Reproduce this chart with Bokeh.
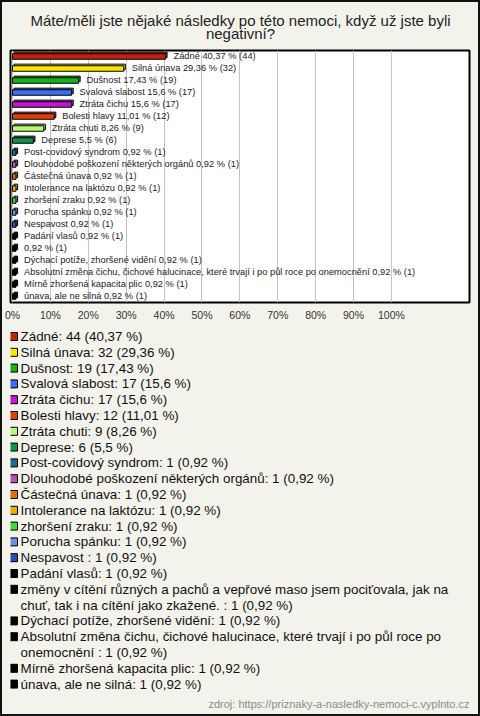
import textwrap
from bokeh.plotting import figure
from bokeh.layouts import column
from bokeh.models import Range1d, FixedTicker, ColumnDataSource
from bokeh.core.properties import value
from bokeh.embed import file_html
from bokeh.resources import INLINE

# ---------------- data ----------------
title_lines = ["Máte/měli jste nějaké následky po této nemoci, když už jste byli", "negativní?"]
source_text = "zdroj: https://priznaky-a-nasledky-nemoci-c.vyplnto.cz"

chart_names = [
    "Zádné", "Silná únava", "Dušnost", "Svalová slabost", "Ztráta čichu",
    "Bolesti hlavy", "Ztráta chuti", "Deprese", "Post-covidový syndrom",
    "Dlouhodobé poškození některých orgánů", "Částečná únava",
    "Intolerance na laktózu", "zhoršení zraku", "Porucha spánku",
    "Nespavost ", "Padání vlasů", "",
    "Dýchací potíže, zhoršené vidění",
    "Absolutní změna čichu, čichové halucinace, které trvají i po půl roce po onemocnění ",
    "Mírně zhoršená kapacita plic", "únava, ale ne silná",
]
legend_names = [
    "Zádné", "Silná únava", "Dušnost", "Svalová slabost", "Ztráta čichu",
    "Bolesti hlavy", "Ztráta chuti", "Deprese", "Post-covidový syndrom",
    "Dlouhodobé poškození některých orgánů", "Částečná únava",
    "Intolerance na laktózu", "zhoršení zraku", "Porucha spánku",
    "Nespavost ", "Padání vlasů",
    "změny v cítění různých a pachů a vepřové maso jsem pociťovala, jak na chuť, tak i na cítění jako zkažené. ",
    "Dýchací potíže, zhoršené vidění",
    "Absolutní změna čichu, čichové halucinace, které trvají i po půl roce po onemocnění ",
    "Mírně zhoršená kapacita plic", "únava, ale ne silná",
]
counts = [44, 32, 19, 17, 17, 12, 9, 6, 1, 1, 1, 1, 1, 1, 1, 1, 1, 1, 1, 1, 1]
percents = [40.37, 29.36, 17.43, 15.6, 15.6, 11.01, 8.26, 5.5, 0.92, 0.92, 0.92,
            0.92, 0.92, 0.92, 0.92, 0.92, 0.92, 0.92, 0.92, 0.92, 0.92]
colors = ["#c4200c", "#f8e400", "#18b018", "#3c6cf0", "#c018d0", "#e0400c",
          "#b8f878", "#129050", "#1c6e8c", "#b058b8", "#e07008", "#e8b000",
          "#40d838", "#6890e0", "#2850b0", "#000000", "#000000", "#000000",
          "#000000", "#000000", "#000000"]
tick_values = [0, 10, 20, 30, 40, 50, 60, 70, 80, 90, 100]
tick_labels = ["0%", "10%", "20%", "30%", "40%", "50%", "60%", "70%", "80%", "90%", "100%"]

# ---------------- style ----------------
BG = "#f4f3eb"
FONT = "Liberation Sans"
W = 476
H0 = 46
H1 = 278
H2 = 388
FRAME_L = 8
FRAME_W = 459
X_START = -0.53
X_END = 120.6
PX_PER_UNIT = FRAME_W / (X_END - X_START)
ROW_PX = 12.0
LINE_PX = 15.8
TITLE_LINE_PX = 13.0


def fmt(v):
    return str(v).replace(".", ",")


n = len(counts)
rows = list(range(n))
bar_labels = [f"{nm} {fmt(pc)} % ({c})".lstrip() for nm, pc, c in zip(chart_names, percents, counts)]

common = dict(output_backend="svg", toolbar_location=None,
              x_axis_location=None, y_axis_location=None,
              border_fill_color=BG, outline_line_color=None)

# ---------------- title figure ----------------
p0 = figure(width=W, height=H0, x_range=Range1d(FRAME_L, FRAME_L + FRAME_W),
            y_range=Range1d(H0 / TITLE_LINE_PX - 18 / TITLE_LINE_PX, -18 / TITLE_LINE_PX),
            min_border=0, min_border_left=FRAME_L, min_border_right=W - FRAME_L - FRAME_W,
            min_border_top=0, min_border_bottom=0,
            background_fill_color=BG, **common)
p0.xgrid.visible = False
p0.ygrid.visible = False
p0.text(x=[238] * len(title_lines), y=list(range(len(title_lines))), text=title_lines,
        text_font=value(FONT), text_font_size="15px", text_color="#222222",
        text_baseline="middle", text_align="center")

# ---------------- chart figure ----------------
p1 = figure(width=W, height=H1, x_range=Range1d(X_START, X_END), y_range=Range1d(n - 0.5, -0.5),
            output_backend="svg", toolbar_location=None,
            min_border_left=FRAME_L, min_border_right=W - FRAME_L - FRAME_W,
            min_border_top=2, min_border_bottom=24,
            y_axis_location=None, background_fill_color="white", border_fill_color=BG,
            outline_line_color="black", outline_line_width=2)
p1.ygrid.visible = False
p1.xgrid.ticker = FixedTicker(ticks=tick_values)
p1.xgrid.grid_line_color = "#c4c4c4"
p1.xgrid.grid_line_width = 1

ax = p1.xaxis[0]
ax.ticker = FixedTicker(ticks=tick_values)
ax.major_label_overrides = {t: l for t, l in zip(tick_values, tick_labels)}
ax.axis_line_color = None
ax.major_tick_line_color = None
ax.minor_tick_line_color = None
ax.major_tick_out = 0
ax.major_tick_in = 0
ax.major_label_standoff = 6
ax.major_label_text_font = FONT
ax.major_label_text_font_size = "10.5px"
ax.major_label_text_color = "#333333"

dx = 1.6 / PX_PER_UNIT
dy = 1.6 / ROW_PX
src = ColumnDataSource(dict(
    y=rows,
    y_back=[r - dy for r in rows],
    left_back=[dx] * n,
    right=percents,
    right_back=[pc + dx for pc in percents],
    color=colors,
    label=bar_labels,
))
p1.hbar(y="y_back", left="left_back", right="right_back", height=5.5 / ROW_PX, source=src,
        fill_color="color", line_color="black", line_width=1)
p1.hbar(y="y", left=0, right="right", height=5.5 / ROW_PX, source=src,
        fill_color="color", line_color="black", line_width=1)
p1.text(x="right", y="y", text="label", source=src, x_offset=8, y_offset=-1,
        text_font=value(FONT), text_font_size="9.3px", text_color="#222222",
        text_baseline="middle", text_align="left")

# ---------------- legend figure ----------------
line_idx = []
marker_lines = []
text_lines = []
k = 0
for nm, pc, c in zip(legend_names, percents, counts):
    label = f"{nm}: {c} ({fmt(pc)} %)"
    parts = textwrap.wrap(label, 72)
    marker_lines.append(k)
    for part in parts:
        text_lines.append(part)
        line_idx.append(k)
        k += 1

top_lines = 10 / LINE_PX
p2 = figure(width=W, height=H2, x_range=Range1d(FRAME_L, FRAME_L + FRAME_W),
            y_range=Range1d(H2 / LINE_PX - top_lines, -top_lines),
            min_border=0, min_border_left=FRAME_L, min_border_right=W - FRAME_L - FRAME_W,
            min_border_top=0, min_border_bottom=0,
            background_fill_color=BG, **common)
p2.xgrid.visible = False
p2.ygrid.visible = False

p2.scatter(x=11, y=marker_lines, marker="square", size=8, fill_color=colors,
           line_color="black", line_width=1)
p2.text(x=18, y=line_idx, text=text_lines, text_font=value(FONT), text_font_size="13.4px",
        text_color="#111111", text_baseline="middle", text_align="left")
p2.text(x=[467], y=[k + 0.25], text=[source_text], text_font=value(FONT),
        text_font_size="11px", text_color="#8a8a8a", text_baseline="middle",
        text_align="right")

layout = column(p0, p1, p2, spacing=0,
                styles={"border": "2px solid #111111", "background-color": BG})

open("out.html", "w").write(file_html(layout, INLINE))
